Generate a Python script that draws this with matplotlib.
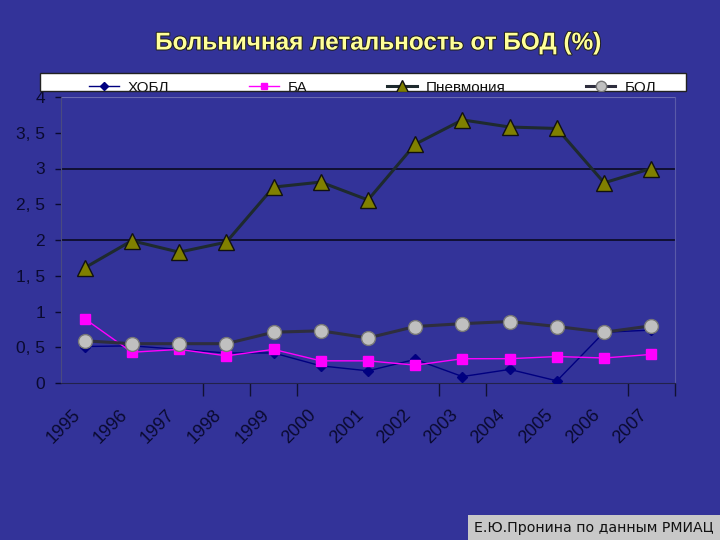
import matplotlib
matplotlib.use("Agg")
import matplotlib.pyplot as plt
from matplotlib.patches import Rectangle
from matplotlib.ticker import FuncFormatter, FixedLocator
import matplotlib.patheffects as pe

years = ["1995", "1996", "1997", "1998", "1999", "2000", "2001",
         "2002", "2003", "2004", "2005", "2006", "2007"]
hobl = [0.51, 0.52, 0.47, 0.42, 0.42, 0.24, 0.17, 0.33, 0.09, 0.19, 0.03, 0.71, 0.74]
ba = [0.90, 0.43, 0.47, 0.38, 0.47, 0.31, 0.31, 0.25, 0.34, 0.34, 0.37, 0.35, 0.40]
pneumonia = [1.61, 1.99, 1.83, 1.97, 2.74, 2.81, 2.56, 3.34, 3.68, 3.58, 3.56, 2.80, 3.00]
bol = [0.59, 0.55, 0.55, 0.55, 0.71, 0.73, 0.63, 0.79, 0.83, 0.86, 0.79, 0.71, 0.80]
series_names = ["ХОБЛ", "БА", "Пневмония", "БОЛ"]
title = "Больничная летальность от БОД (%)"
credit = "Е.Ю.Пронина по данным РМИАЦ"

BG = "#333399"
plt.rcParams['font.family'] = ['Liberation Sans', 'DejaVu Sans']

fig = plt.figure(figsize=(7.2, 5.4), dpi=100, facecolor=BG)
W, H = 720, 540
ax = fig.add_axes([61 / W, 1 - 383 / H, (675 - 61) / W, (383 - 97) / H])
ax.set_facecolor(BG)

x = list(range(len(years)))
ax.plot(x, hobl, color="#000080", lw=1, marker="D", ms=5, mfc="#000080", mec="#000080",
        label=series_names[0], zorder=3)
ax.plot(x, ba, color="#ff00ff", lw=1, marker="s", ms=6.5, mfc="#ff00ff", mec="#ff00ff",
        label=series_names[1], zorder=3)
ax.plot(x, pneumonia, color="#1e2a2e", lw=2.2, marker="^", ms=11, mfc="#808000", mec="#111111",
        mew=1, label=series_names[2], zorder=4)
ax.plot(x, bol, color="#2e2e3e", lw=2.2, marker="o", ms=10, mfc="#c0c0c0", mec="#777777",
        mew=1, label=series_names[3], zorder=3)

ax.set_xlim(-0.5, 12.5)
ax.set_ylim(0, 4)
ax.set_yticks([0, 0.5, 1, 1.5, 2, 2.5, 3, 3.5, 4])
ax.yaxis.set_major_formatter(FuncFormatter(
    lambda v, p: (f"{v:g}".replace(".", ", ") if v != int(v) else f"{int(v)}")))
ax.tick_params(axis="y", colors="#0a0a30", labelsize=12.5, length=4.5, width=1, pad=7,
               labelcolor="#0a0a30", direction="out")

ax.set_xticks(x)
ax.set_xticklabels(years, rotation=45, ha="right", va="top", rotation_mode="anchor",
                   fontsize=13, color="#0a0a30")
ax.tick_params(axis="x", length=0, pad=17)
ax.xaxis.set_minor_locator(FixedLocator([2.5, 3.5, 4.5, 7.5, 8.5, 11.5, 12.5]))
ax.tick_params(axis="x", which="minor", length=9, width=1, color="#111133")
for lab in ax.get_xticklabels():
    lab.set_transform(lab.get_transform() + matplotlib.transforms.ScaledTranslation(-13 / 100, 0, fig.dpi_scale_trans))

for v in [2, 3]:
    ax.axhline(v, color="#0a0a22", lw=1.2, zorder=1)
ax.axhline(4, color="#6a6ab0", lw=0.8, zorder=1)

ax.spines["left"].set_color("#4a4a80")
ax.spines["bottom"].set_color("#22224a")
ax.spines["right"].set_color("#5a5aa8")
ax.spines["top"].set_visible(False)
ax.spines["right"].set_linewidth(0.8)

# title
fig.text(378 / W, 1 - 43 / H, title, ha="center", va="center", fontsize=17.5,
         fontweight="bold", color="#ffff99",
         path_effects=[pe.withStroke(linewidth=1.5, foreground="#222222")])

# legend box (clipped)
clip = Rectangle((40 / W, 1 - 91 / H), 646 / W, 18 / H, transform=fig.transFigure,
                 facecolor="white", edgecolor="#222222", lw=1, zorder=5)
fig.patches.append(clip)
handles, labels = ax.get_legend_handles_labels()
leg = fig.legend(handles, labels, loc="upper left", ncol=4, frameon=False,
                 bbox_to_anchor=(75 / W, 1 - 67 / H), fontsize=11,
                 handlelength=1.96, handletextpad=0.6, columnspacing=5.2,
                 markerscale=0.75)
leg.set_zorder(6)
for t in leg.get_texts():
    t.set_clip_path(clip)
    t.set_color("#111111")
for h in leg.legend_handles:
    h.set_clip_path(clip)

# credit box
fig.patches.append(Rectangle((468 / W, 0), (W - 468) / W, 25 / H, transform=fig.transFigure,
                             facecolor="#c8c8c8", edgecolor="none", zorder=5))
fig.text(474 / W, 12 / H, credit, ha="left", va="center", fontsize=10.2,
         family="DejaVu Sans", color="#111111", zorder=6)

fig.savefig("out.png", dpi=100, facecolor=BG)
